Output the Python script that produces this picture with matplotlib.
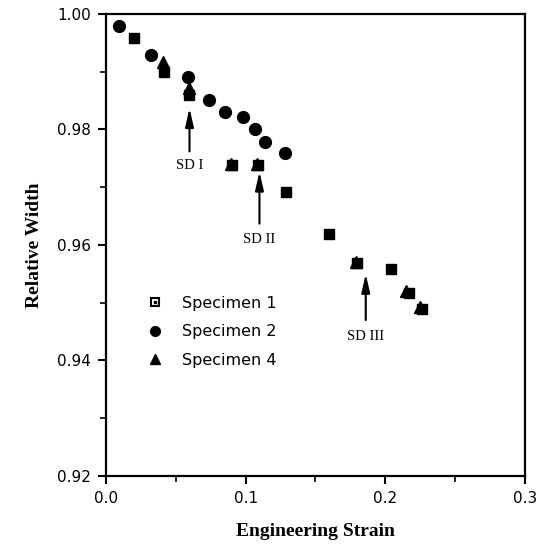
import matplotlib
matplotlib.use("Agg")
import matplotlib.pyplot as plt
from matplotlib.lines import Line2D
from matplotlib.legend_handler import HandlerTuple

# Data
spec1_x = [0.020, 0.0416, 0.0596, 0.0905, 0.109, 0.129, 0.160, 0.180, 0.204, 0.2168, 0.2262]
spec1_y = [0.9959, 0.9900, 0.9860, 0.9739, 0.9739, 0.9691, 0.9619, 0.9568, 0.9559, 0.9517, 0.9490]

spec2_x = [0.009, 0.0323, 0.0589, 0.074, 0.0853, 0.0984, 0.107, 0.114, 0.128]
spec2_y = [0.9980, 0.9929, 0.9891, 0.9851, 0.9831, 0.9821, 0.9800, 0.9779, 0.9759]

spec4_x = [0.0405, 0.0594, 0.0895, 0.108, 0.179, 0.215, 0.2245]
spec4_y = [0.9917, 0.9872, 0.9741, 0.9741, 0.9570, 0.9520, 0.9493]

labels = ["Specimen 1", "Specimen 2", "Specimen 4"]

# Annotations (label, x, arrow tip y, arrow tail y, text y)
annot_labels = ["SD I", "SD II", "SD III"]
annot_x = [0.0598, 0.1099, 0.186]
annot_tip = [0.9837, 0.9727, 0.9550]
annot_tail = [0.9762, 0.9637, 0.9470]
annot_text_y = [0.9737, 0.9610, 0.9441]

xticks = [0.0, 0.1, 0.2, 0.3]
yticks = [0.92, 0.94, 0.96, 0.98, 1.00]

fig = plt.figure(figsize=(5.52, 5.54), dpi=100)
ax = fig.add_axes([0.192, 0.1408, 0.759, 0.834])

ax.plot(spec1_x, spec1_y, ls="none", marker="s", ms=7.5, mfc="black", mec="black", zorder=3)
ax.plot(spec2_x, spec2_y, ls="none", marker="o", ms=8.5, mfc="black", mec="black", zorder=3)
ax.plot(spec4_x, spec4_y, ls="none", marker="^", ms=8, mfc="black", mec="black", zorder=3)

for lab, x, tip, tail, ty in zip(annot_labels, annot_x, annot_tip, annot_tail, annot_text_y):
    ax.annotate("", xy=(x, tip), xytext=(x, tail),
                arrowprops=dict(arrowstyle="-|>,head_length=1.1,head_width=0.25",
                                color="black", lw=1.5, shrinkA=0, shrinkB=0))
    ax.text(x, ty, lab, ha="center", va="center", family="Liberation Serif", fontsize=10.5)

ax.set_xlim(0.0, 0.3)
ax.set_ylim(0.92, 1.00)
ax.set_xticks(xticks)
ax.set_xticklabels([f"{v:.1f}" for v in xticks])
ax.set_yticks(yticks)
ax.set_yticklabels([f"{v:.2f}" for v in yticks])
ax.set_xticks([0.05, 0.15, 0.25], minor=True)
ax.set_yticks([0.93, 0.95, 0.97, 0.99], minor=True)
ax.tick_params(which="major", direction="out", length=6, width=1.5, labelsize=11, pad=5)
ax.tick_params(which="minor", direction="out", length=4, width=1.2)
for s in ax.spines.values():
    s.set_linewidth(1.6)

ax.set_xlabel("Engineering Strain", family="Liberation Serif", fontweight="bold", fontsize=14, labelpad=12)
ax.set_ylabel("Relative Width", family="Liberation Serif", fontweight="bold", fontsize=14, labelpad=10)

h1 = (Line2D([], [], ls="none", marker="s", ms=6, mfc="white", mec="black", mew=1.5),
      Line2D([], [], ls="none", marker="s", ms=1.8, mfc="black", mec="black"))
h2 = Line2D([], [], ls="none", marker="o", ms=7, mfc="black", mec="black")
h4 = Line2D([], [], ls="none", marker="^", ms=7, mfc="black", mec="black")
leg = ax.legend([h1, h2, h4], labels, handler_map={tuple: HandlerTuple(ndivide=1)},
                loc="center left", bbox_to_anchor=(0.055, 0.312), frameon=False,
                fontsize=11.5, handlelength=1.5, handletextpad=0.9, labelspacing=0.85)

fig.savefig("out.png", dpi=100)
